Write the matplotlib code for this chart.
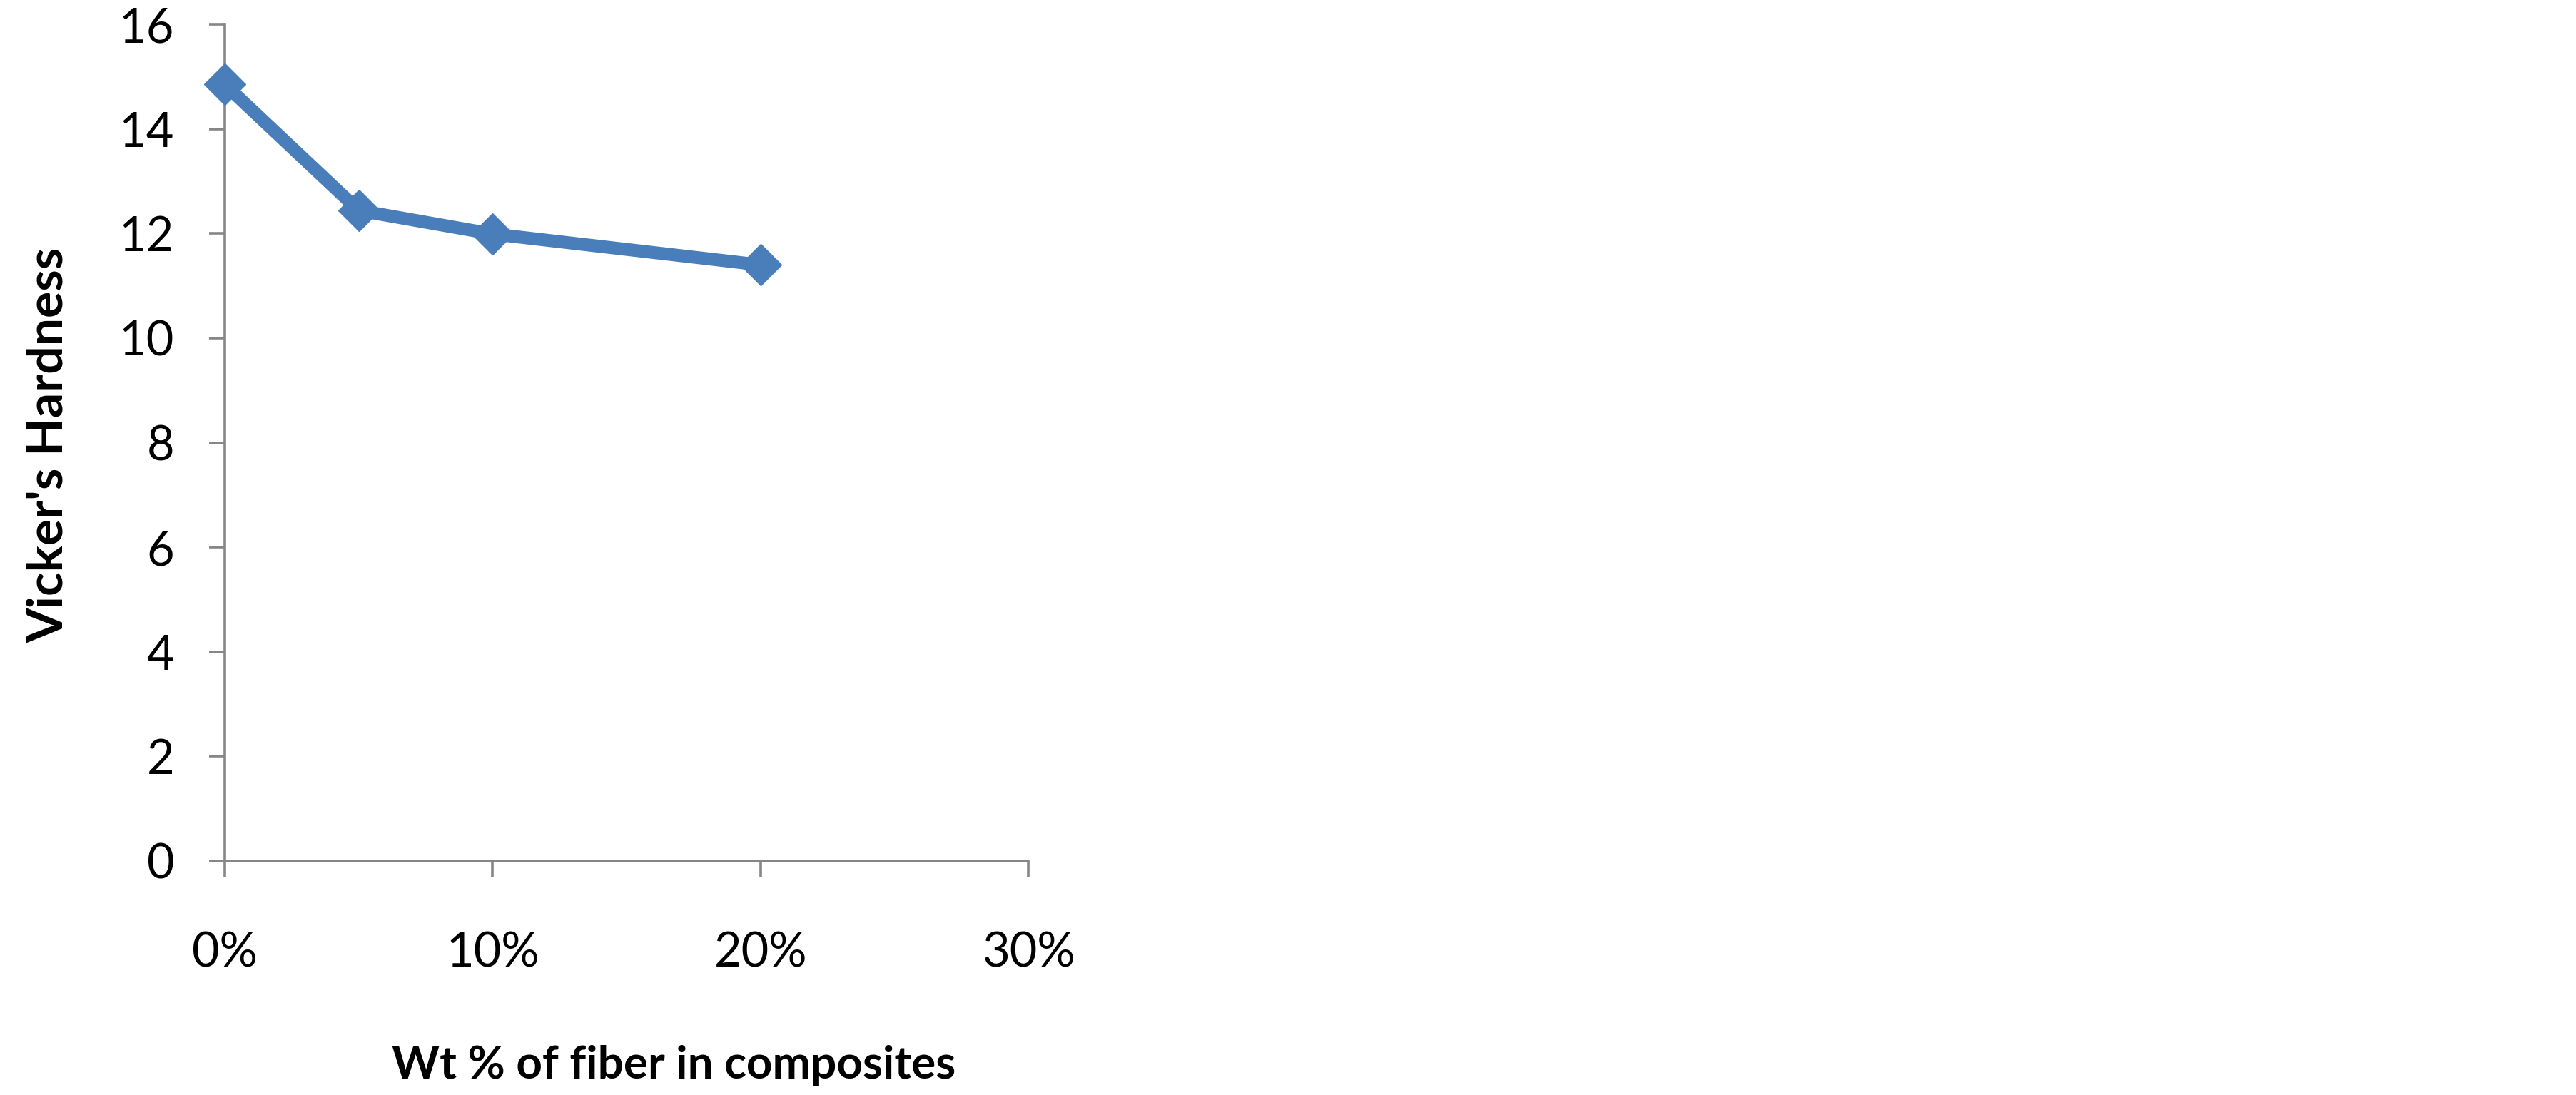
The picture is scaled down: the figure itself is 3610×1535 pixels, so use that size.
import matplotlib
matplotlib.use("Agg")
import matplotlib.pyplot as plt
from matplotlib.ticker import FuncFormatter

# Data
fiber_wt = [0, 5, 10, 20]            # Wt % of fiber
hardness = [14.85, 12.44, 11.99, 11.40]  # Vicker's hardness
x_ticks = [0, 10, 20, 30]
y_ticks = [0, 2, 4, 6, 8, 10, 12, 14, 16]

W, H = 3610, 1535
DPI = 100
fig = plt.figure(figsize=(W / DPI, H / DPI), dpi=DPI)
fig.patch.set_facecolor("white")

left, right = 315 / W, 1441 / W
bottom, top = 1 - 1207 / H, 1 - 34 / H
ax = fig.add_axes([left, bottom, right - left, top - bottom])

blue = "#4A7EBB"
ax.plot(fiber_wt, hardness, color=blue, linewidth=13, marker="D",
        markersize=30, markerfacecolor=blue, markeredgecolor=blue,
        clip_on=False, zorder=5)

ax.set_xlim(0, 30)
ax.set_ylim(0, 16)
ax.set_xticks(x_ticks)
ax.set_yticks(y_ticks)
ax.xaxis.set_major_formatter(FuncFormatter(lambda v, p: f"{int(v)}%"))

axis_col = "#868686"
for s in ["top", "right"]:
    ax.spines[s].set_visible(False)
for s in ["left", "bottom"]:
    ax.spines[s].set_color(axis_col)
    ax.spines[s].set_linewidth(2.6)

font = "Lato"
ax.tick_params(axis="both", colors=axis_col, width=2.6, length=16,
               labelcolor="black", labelsize=48)
ax.tick_params(axis="x", pad=55)
ax.tick_params(axis="y", pad=35)
for lbl in ax.get_xticklabels() + ax.get_yticklabels():
    lbl.set_fontfamily(font)

fig.text(944 / W, 1 - 1512 / H, "Wt % of fiber in composites",
         ha="center", va="baseline", fontsize=46, fontweight="bold",
         family=font)
fig.text(68 / W, 1 - 624 / H, "Vicker's Hardness", rotation=90,
         ha="center", va="center", fontsize=50, fontweight="bold",
         family=font)

fig.savefig("out.png", dpi=DPI, facecolor="white")
